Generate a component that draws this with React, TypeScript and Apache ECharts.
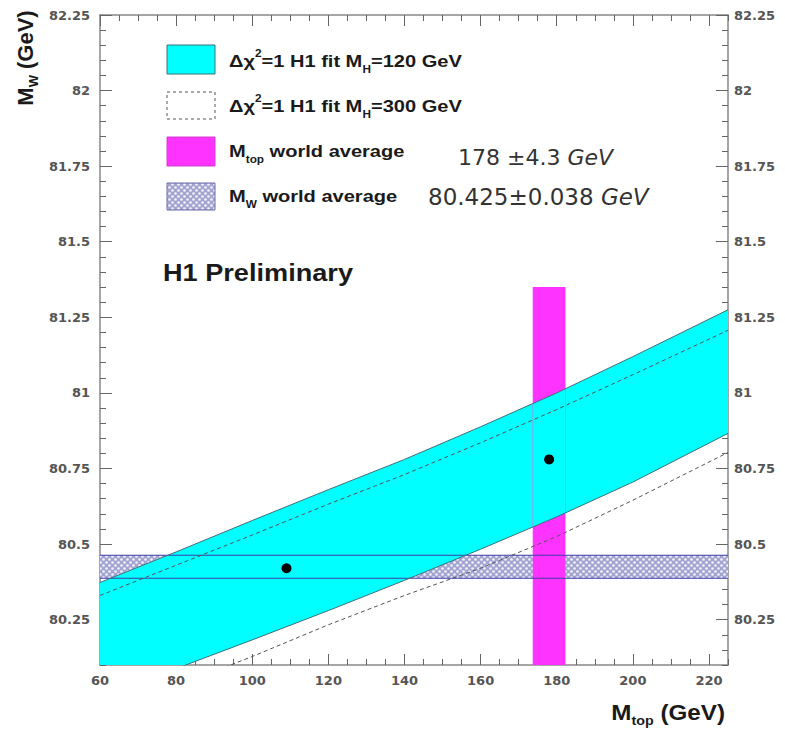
import React, { useEffect, useRef } from "react";
import * as echarts from "echarts";

// Axis ranges
const X_MIN = 60;
const X_MAX = 225;
const Y_MIN = 80.1;
const Y_MAX = 82.25;

// Tick positions (majors carry labels)
const xMajorTicks = [60, 80, 100, 120, 140, 160, 180, 200, 220];
const yMajorTicks = [80.25, 80.5, 80.75, 81, 81.25, 81.5, 81.75, 82, 82.25];

// Δχ²=1 contours of the H1 fit, sampled along M_top (GeV)
const bandX = [60, 80, 100, 120, 140, 160, 180, 200, 225];
const fit120Upper = [80.373, 80.474, 80.578, 80.68, 80.78, 80.888, 81.0, 81.12, 81.275];
const fit120Lower = [79.99, 80.088, 80.183, 80.28, 80.38, 80.483, 80.59, 80.705, 80.866];
const fit300Upper = [80.33, 80.43, 80.53, 80.632, 80.73, 80.835, 80.945, 81.06, 81.207];
const fit300Lower = [79.94, 80.03, 80.128, 80.233, 80.33, 80.42, 80.525, 80.645, 80.803];

// Best-fit points (M_top, M_W)
const fitPoints = [
  [109, 80.42],
  [178, 80.78],
];

// World averages
const topMass = 178;
const topErr = 4.3;
const topBarTop = 81.35;
const wMass = 80.425;
const wErr = 0.038;

const CYAN = "#00ffff";
const CYAN_EDGE = "#3f6f76";
const MAGENTA = "#ff33ff";
const W_LINE = "#3c3caa";

function interp(xs: number[], ys: number[], x: number): number {
  for (let i = 0; i < xs.length - 1; i++) {
    if (x >= xs[i] && x <= xs[i + 1]) {
      const t = (x - xs[i]) / (xs[i + 1] - xs[i]);
      return ys[i] + t * (ys[i + 1] - ys[i]);
    }
  }
  return ys[ys.length - 1];
}

const clamp = (v: number, lo: number, hi: number) => Math.min(hi, Math.max(lo, v));

function makeHatch(): HTMLCanvasElement {
  const c = document.createElement("canvas");
  c.width = 6;
  c.height = 6;
  const g = c.getContext("2d")!;
  g.fillStyle = "#a4a4d0";
  g.fillRect(0, 0, 6, 6);
  g.fillStyle = "#f4f4ff";
  g.beginPath();
  g.arc(1.5, 1.5, 1.3, 0, Math.PI * 2);
  g.fill();
  g.beginPath();
  g.arc(4.5, 4.5, 1.3, 0, Math.PI * 2);
  g.fill();
  return c;
}

const pairs = (xs: number[], ys: number[]) => xs.map((x, i) => [x, ys[i]]);

const LABEL_FONT = {
  fontFamily: "DejaVu Sans",
  fontWeight: "bold" as const,
  fontSize: 13,
  color: "#555",
};

function minorAxisX(position: "bottom" | "top", showLabels: boolean) {
  return {
    type: "value",
    position,
    min: X_MIN,
    max: X_MAX,
    interval: 5,
    axisLine: { show: true, onZero: false, lineStyle: { color: "#888", width: 1.5 } },
    axisTick: { show: true, inside: true, length: 6, lineStyle: { color: "#666" } },
    axisLabel: {
      show: showLabels,
      margin: 9,
      ...LABEL_FONT,
      formatter: (v: number) => (xMajorTicks.includes(Math.round(v)) && Math.abs(v - Math.round(v)) < 1e-6 ? String(Math.round(v)) : ""),
    },
    splitLine: { show: false },
  };
}

function majorAxisX(position: "bottom" | "top") {
  return {
    type: "value",
    position,
    min: X_MIN,
    max: X_MAX,
    axisLine: { show: false, onZero: false },
    axisTick: { show: true, inside: true, length: 11, customValues: xMajorTicks, lineStyle: { color: "#666" } },
    axisLabel: { show: false },
    splitLine: { show: false },
  };
}

const isYMajor = (v: number) => Math.abs(v * 4 - Math.round(v * 4)) < 1e-6;

function minorAxisY(position: "left" | "right") {
  return {
    type: "value",
    position,
    min: Y_MIN,
    max: Y_MAX,
    interval: 0.05,
    axisLine: { show: true, onZero: false, lineStyle: { color: "#888", width: 1.5 } },
    axisTick: { show: true, inside: true, length: 6, lineStyle: { color: "#666" } },
    axisLabel: {
      show: true,
      margin: position === "left" ? 10 : 6,
      ...LABEL_FONT,
      formatter: (v: number) => (isYMajor(v) ? String(Number(v.toFixed(2))) : ""),
    },
    splitLine: { show: false },
  };
}

function majorAxisY(position: "left" | "right") {
  return {
    type: "value",
    position,
    min: Y_MIN,
    max: Y_MAX,
    axisLine: { show: false, onZero: false },
    axisTick: { show: true, inside: true, length: 12, customValues: yMajorTicks, lineStyle: { color: "#666" } },
    axisLabel: { show: false },
    splitLine: { show: false },
  };
}

// A custom series that draws a list of shapes given in data coordinates
function shapeSeries(z: number, shapes: { kind: string; pts: number[][]; style: any }[]) {
  return {
    type: "custom",
    z,
    clip: true,
    silent: true,
    data: [[X_MIN, Y_MIN]],
    renderItem: (params: any, api: any) => ({
      type: "group",
      children: shapes.map((s) => ({
        type: s.kind,
        shape: { points: s.pts.map((p) => api.coord(p)) },
        style: s.style,
      })),
    }),
  };
}

function buildOption() {
  const hatch = { image: makeHatch(), repeat: "repeat" };
  const topLo = topMass - topErr;
  const topHi = topMass + topErr;
  const wLo = wMass - wErr;
  const wHi = wMass + wErr;

  // The W-average strip is painted only where the fit band leaves it uncovered:
  // one piece below the band's lower contour and one above its upper contour.
  const shapeXs: number[] = [];
  for (let x = X_MIN; x <= X_MAX + 1e-9; x += 0.5) shapeXs.push(x);
  const stripBelow = [
    ...shapeXs.map((x) => [x, clamp(interp(bandX, fit120Lower, x), wLo, wHi)]),
    [X_MAX, wLo],
    [X_MIN, wLo],
  ];
  const stripAbove = [
    ...shapeXs.map((x) => [x, clamp(interp(bandX, fit120Upper, x), wLo, wHi)]),
    [X_MAX, wHi],
    [X_MIN, wHi],
  ];
  const topBar = [
    [topLo, Y_MIN],
    [topHi, Y_MIN],
    [topHi, topBarTop],
    [topLo, topBarTop],
  ];
  const bandOutline = [...pairs(bandX, fit120Upper), ...pairs(bandX, fit120Lower).reverse()];

  const legendFont = "Liberation Sans";
  const boldRich = (size: number, lh: number) => ({
    b: { fontFamily: legendFont, fontWeight: "bold", fontSize: size, fill: "#1a1a1a", lineHeight: lh },
    sub: { fontFamily: legendFont, fontWeight: "bold", fontSize: Math.round(size * 0.6), fill: "#1a1a1a", lineHeight: Math.round(size * 0.6), verticalAlign: "bottom" },
    sup: { fontFamily: legendFont, fontWeight: "bold", fontSize: Math.round(size * 0.6), fill: "#1a1a1a", lineHeight: Math.round(size * 0.6), verticalAlign: "top" },
  });
  const SX = 1.18;
  const legendText = (y: number, text: string) => ({
    type: "text",
    z: 100,
    x: 229,
    y,
    scaleX: SX,
    style: { text, rich: boldRich(17, 26), align: "left", verticalAlign: "middle" },
  });
  const valueText = (x: number, y: number, num: string, size: number) => ({
    type: "text",
    z: 100,
    x,
    y,
    style: {
      text: `{n|${num}}{i|GeV}`,
      align: "left",
      verticalAlign: "middle",
      rich: {
        n: { fontFamily: "DejaVu Sans", fontSize: size, fill: "#333" },
        i: { fontFamily: "DejaVu Sans", fontStyle: "italic", fontSize: size, fill: "#333" },
      },
    },
  });

  const bandEdgeLine = { color: CYAN_EDGE, width: 1 };

  return {
    animation: false,
    backgroundColor: "#ffffff",
    grid: { left: 100, top: 15, width: 628, height: 650, containLabel: false },
    xAxis: [minorAxisX("bottom", true), majorAxisX("bottom"), minorAxisX("top", false), majorAxisX("top")],
    yAxis: [minorAxisY("left"), majorAxisY("left"), minorAxisY("right"), majorAxisY("right")],
    series: [
      shapeSeries(1, [
        { kind: "polygon", pts: stripBelow, style: { fill: hatch } },
        { kind: "polygon", pts: stripAbove, style: { fill: hatch } },
      ]),
      shapeSeries(2, [{ kind: "polygon", pts: topBar, style: { fill: MAGENTA } }]),
      shapeSeries(3, [{ kind: "polygon", pts: bandOutline, style: { fill: CYAN } }]),
      shapeSeries(4, [
        { kind: "polyline", pts: [[X_MIN, wLo], [X_MAX, wLo]], style: { stroke: W_LINE, lineWidth: 1.2, fill: null } },
        { kind: "polyline", pts: [[X_MIN, wHi], [X_MAX, wHi]], style: { stroke: W_LINE, lineWidth: 1.2, fill: null } },
        ...[topLo, topHi].map((x) => ({
          kind: "polyline",
          pts: [
            [x, interp(bandX, fit120Lower, x)],
            [x, interp(bandX, fit120Upper, x)],
          ],
          style: { stroke: "#7fa8ee", lineWidth: 1, fill: null },
        })),
      ]),
      ...[fit120Upper, fit120Lower].map((ys) => ({
        type: "line",
        z: 5,
        symbol: "none",
        silent: true,
        lineStyle: bandEdgeLine,
        data: pairs(bandX, ys),
      })),
      ...[fit300Upper, fit300Lower].map((ys) => ({
        type: "line",
        z: 6,
        symbol: "none",
        silent: true,
        lineStyle: { color: "#555", width: 1, type: [4, 3] },
        data: pairs(bandX, ys),
      })),
      {
        type: "scatter",
        z: 7,
        symbol: "circle",
        symbolSize: 10,
        itemStyle: { color: "#000", opacity: 1 },
        data: fitPoints,
      },
    ],
    graphic: [
      // legend swatches
      { type: "rect", z: 100, shape: { x: 167, y: 45, width: 48, height: 29 }, style: { fill: CYAN, stroke: CYAN_EDGE, lineWidth: 1 } },
      { type: "rect", z: 100, shape: { x: 167, y: 92, width: 48, height: 27 }, style: { fill: "#fff", stroke: "#555", lineWidth: 1, lineDash: [3, 3] } },
      { type: "rect", z: 100, shape: { x: 167, y: 137, width: 48, height: 29 }, style: { fill: MAGENTA, stroke: "#d040d0", lineWidth: 1 } },
      { type: "rect", z: 100, shape: { x: 167, y: 183, width: 48, height: 27 }, style: { fill: hatch, stroke: "#6a6aa8", lineWidth: 1 } },
      legendText(61, "{b|Δχ}{sup|2}{b|=1 H1 fit M}{sub|H}{b|=120 GeV}"),
      legendText(106, "{b|Δχ}{sup|2}{b|=1 H1 fit M}{sub|H}{b|=300 GeV}"),
      legendText(151, "{b|M}{sub|top}{b| world average}"),
      legendText(196, "{b|M}{sub|W}{b| world average}"),
      valueText(458, 157, "178 ±4.3 ", 22),
      valueText(428, 197, "80.425±0.038 ", 23),
      {
        type: "text",
        z: 100,
        x: 163,
        y: 273,
        scaleX: SX,
        style: {
          text: "H1 Preliminary",
          fontFamily: legendFont,
          fontWeight: "bold",
          fontSize: 23,
          fill: "#1a1a1a",
          align: "left",
          verticalAlign: "middle",
        },
      },
      // axis titles
      {
        type: "text",
        z: 100,
        x: 725,
        y: 712,
        scaleX: 1.1,
        style: {
          text: "{b|M}{sub|top}{b| (GeV)}",
          rich: boldRich(22, 30),
          align: "right",
          verticalAlign: "middle",
        },
      },
      {
        type: "text",
        z: 100,
        x: 25,
        y: 58,
        rotation: Math.PI / 2,
        style: {
          text: "{b|M}{sub|W}{b| (GeV)}",
          rich: boldRich(22, 30),
          align: "center",
          verticalAlign: "middle",
        },
      },
    ],
  };
}

export default function App() {
  const ref = useRef<HTMLDivElement>(null);
  useEffect(() => {
    if (!ref.current) return;
    const chart = echarts.init(ref.current, null, { renderer: "svg" });
    chart.setOption(buildOption() as any);
    return () => chart.dispose();
  }, []);
  return <div ref={ref} style={{ position: "absolute", left: 0, top: 0, width: 785, height: 729 }} />;
}
